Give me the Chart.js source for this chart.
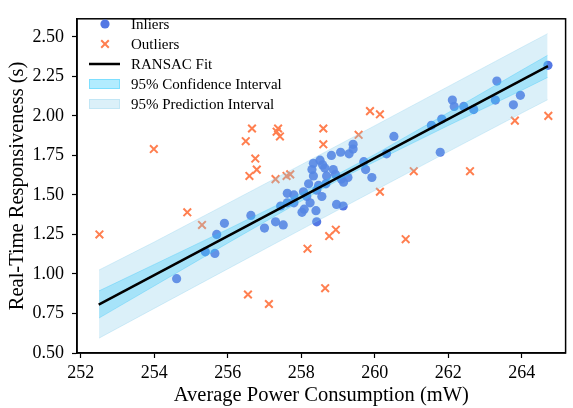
<!DOCTYPE html>
<html>
<head>
<meta charset="utf-8">
<script src="https://cdn.jsdelivr.net/npm/chart.js@4.4.0/dist/chart.umd.min.js"></script>
<style>
html,body{margin:0;padding:0;background:#ffffff;}
#wrap{width:573px;height:408px;position:relative;}
canvas{display:block;}
</style>
</head>
<body>
<div id="wrap"><canvas id="c" width="573" height="408"></canvas></div>
<script>
// ---- data ----
const inlierX = [254.61, 255.39, 255.65, 255.70, 255.91, 256.63, 257.00, 257.30, 257.51, 257.44,
  257.62, 257.80, 257.62, 257.80, 258.02, 258.08, 258.24, 258.40, 258.42, 258.06,
  258.15, 258.56, 258.42, 258.96, 259.14, 258.20, 258.47, 258.67, 258.33, 258.69,
  258.93, 259.09, 259.15, 258.29, 258.64, 258.87, 258.33, 258.58, 258.51, 258.82,
  259.07, 259.30, 259.41, 259.41, 259.27, 259.70, 259.75, 259.92, 260.32, 260.52,
  261.54, 261.78, 261.82, 262.11, 262.16, 262.42, 262.69, 263.28, 263.32, 263.77,
  263.96, 264.71];
const inlierY = [0.97, 1.14, 1.13, 1.25, 1.32, 1.37, 1.29, 1.33, 1.31, 1.43,
  1.45, 1.45, 1.51, 1.50, 1.39, 1.41, 1.45, 1.40, 1.33, 1.52,
  1.49, 1.49, 1.53, 1.44, 1.43, 1.57, 1.56, 1.57, 1.62, 1.62,
  1.63, 1.60, 1.58, 1.66, 1.67, 1.66, 1.70, 1.69, 1.72, 1.75,
  1.77, 1.76, 1.79, 1.82, 1.61, 1.71, 1.66, 1.61, 1.76, 1.87,
  1.94, 1.77, 1.98, 2.10, 2.06, 2.06, 2.04, 2.10, 2.22, 2.07,
  2.13, 2.32];
const outlierX = [252.51, 253.99, 254.90, 255.30, 256.49, 256.66, 256.75, 256.79, 256.59, 257.37,
  257.33, 257.42, 257.30, 257.60, 257.70, 258.60, 258.60, 259.87, 260.14, 259.56,
  261.06, 262.59, 260.14, 263.81, 264.72, 256.55, 257.12, 258.17, 258.94, 258.76,
  260.84, 258.65];
const outlierY = [1.25, 1.79, 1.39, 1.31, 1.84, 1.92, 1.73, 1.66, 1.62, 1.92,
  1.90, 1.87, 1.60, 1.62, 1.63, 1.92, 1.82, 2.03, 2.01, 1.88,
  1.65, 1.65, 1.52, 1.97, 2.00, 0.87, 0.81, 1.16, 1.28, 1.24,
  1.22, 0.91];
const fitX = [252.49, 264.71];
const fitY = [0.806, 2.314];
const bandX   = [252.5, 254.0, 256.0, 258.0, 259.1, 260.0, 262.0, 264.0, 264.7];
const ciUpper = [0.893, 1.060, 1.283, 1.511, 1.645, 1.756, 2.021, 2.290, 2.383];
const ciLower = [0.721, 0.924, 1.195, 1.461, 1.605, 1.710, 1.939, 2.162, 2.243];
const piUpper = [1.025, 1.202, 1.446, 1.691, 1.827, 1.938, 2.186, 2.434, 2.520];
const piLower = [0.594, 0.782, 1.032, 1.281, 1.417, 1.528, 1.774, 2.018, 2.102];
const xTicks = [252, 254, 256, 258, 260, 262, 264];
const yTicks = [0.50, 0.75, 1.00, 1.25, 1.50, 1.75, 2.00, 2.25, 2.50];
const labels = ['Inliers', 'Outliers', 'RANSAC Fit', '95% Confidence Interval', '95% Prediction Interval'];
const xTitle = 'Average Power Consumption (mW)';
const yTitle = 'Real-Time Responsiveness (s)';

// ---- styles ----
const FONT = '"Liberation Serif", "Times New Roman", Times, serif';
const C_IN = 'rgba(65,105,225,0.9)';
const C_OUT = '#FF7F50';
const C_CI = 'rgba(0,191,255,0.3)';
const C_PI = 'rgba(135,206,235,0.3)';

const pts = (xs, ys) => xs.map((x, i) => ({x: x, y: ys[i]}));

const frame = {
  id: 'frame',
  afterDraw(chart) {
    const {ctx, chartArea: a} = chart;
    ctx.save();
    ctx.strokeStyle = '#000';
    ctx.lineWidth = 1.5;
    ctx.strokeRect(a.left, a.top, a.right - a.left, a.bottom - a.top);
    // legend
    const mx = 105, tx = 131;
    const rows = [24, 44, 64, 84, 104];
    ctx.font = '15px ' + FONT;
    ctx.textBaseline = 'middle';
    ctx.textAlign = 'left';
    ctx.fillStyle = '#000';
    rows.forEach((ry, i) => ctx.fillText(chart.data.datasets[[0,1,2,3,5][i]].label, tx, ry + 1));
    // inlier marker
    ctx.fillStyle = C_IN;
    ctx.beginPath(); ctx.arc(mx, rows[0], 4.6, 0, Math.PI * 2); ctx.fill();
    // outlier marker
    ctx.strokeStyle = C_OUT; ctx.lineWidth = 2;
    const d = 3.8;
    ctx.beginPath();
    ctx.moveTo(mx - d, rows[1] - d); ctx.lineTo(mx + d, rows[1] + d);
    ctx.moveTo(mx - d, rows[1] + d); ctx.lineTo(mx + d, rows[1] - d);
    ctx.stroke();
    // line
    ctx.strokeStyle = '#000'; ctx.lineWidth = 2.5;
    ctx.beginPath(); ctx.moveTo(89, rows[2]); ctx.lineTo(120, rows[2]); ctx.stroke();
    // patches
    ctx.lineWidth = 1;
    ctx.fillStyle = C_CI; ctx.strokeStyle = C_CI;
    ctx.fillRect(89, rows[3] - 5, 31, 10); ctx.strokeRect(89.5, rows[3] - 4.5, 30, 9);
    ctx.fillStyle = C_PI; ctx.strokeStyle = C_PI;
    ctx.fillRect(89, rows[4] - 5, 31, 10); ctx.strokeRect(89.5, rows[4] - 4.5, 30, 9);
    ctx.restore();
  }
};

new Chart(document.getElementById('c'), {
  type: 'scatter',
  data: {
    datasets: [
      {label: labels[0], data: pts(inlierX, inlierY), backgroundColor: C_IN, borderWidth: 0,
       pointRadius: 4.6, pointHoverRadius: 4.6, order: 5},
      {label: labels[1], data: pts(outlierX, outlierY), pointStyle: 'crossRot', borderColor: C_OUT,
       backgroundColor: C_OUT, borderWidth: 2, pointRadius: 5.4, pointHoverRadius: 5.4, order: 4},
      {label: labels[2], data: pts(fitX, fitY), showLine: true, borderColor: '#000', borderWidth: 2.5,
       pointRadius: 0, fill: false, order: 0},
      {label: labels[3], data: pts(bandX, ciUpper), showLine: true, borderColor: C_CI, borderWidth: 1,
       backgroundColor: C_CI, pointRadius: 0, fill: 4, order: 2},
      {label: labels[3] + ' lower', data: pts(bandX, ciLower), showLine: true, borderColor: C_CI, borderWidth: 1,
       pointRadius: 0, fill: false, order: 3},
      {label: labels[4], data: pts(bandX, piUpper), showLine: true, borderColor: C_PI, borderWidth: 1,
       backgroundColor: C_PI, pointRadius: 0, fill: 6, order: 1},
      {label: labels[4] + ' lower', data: pts(bandX, piLower), showLine: true, borderColor: C_PI, borderWidth: 1,
       pointRadius: 0, fill: false, order: 1}
    ]
  },
  options: {
    responsive: false,
    animation: false,
    devicePixelRatio: 1,
    layout: {padding: {left: 0, right: 1, top: 5, bottom: 0}},
    plugins: {legend: {display: false}, tooltip: {enabled: false}},
    scales: {
      x: {
        type: 'linear', min: 251.90, max: 265.19,
        afterBuildTicks: s => { s.ticks = xTicks.map(v => ({value: v})); },
        afterFit: s => { s.height = 55; },
        ticks: {color: '#000', font: {family: FONT, size: 18}, padding: 4,
                callback: v => String(v), maxRotation: 0, autoSkip: false},
        grid: {display: true, drawOnChartArea: false, drawTicks: true, tickLength: 5, color: '#000', tickWidth: 1.2},
        border: {display: true, color: '#000', width: 1.5},
        title: {display: true, text: xTitle, color: '#000', font: {family: FONT, size: 20.5}, padding: {top: 0, bottom: 0}}
      },
      y: {
        type: 'linear', min: 0.5, max: 2.614,
        afterBuildTicks: s => { s.ticks = yTicks.map(v => ({value: v})); },
        afterFit: s => { s.width = 77; },
        ticks: {color: '#000', font: {family: FONT, size: 18}, padding: 8,
                callback: v => Number(v).toFixed(2), autoSkip: false},
        grid: {display: true, drawOnChartArea: false, drawTicks: true, tickLength: 5, color: '#000', tickWidth: 1.2},
        border: {display: true, color: '#000', width: 1.5},
        title: {display: true, text: yTitle, color: '#000', font: {family: FONT, size: 20.5}, padding: {top: 5, bottom: 0}}
      }
    }
  },
  plugins: [frame]
});
</script>
</body>
</html>
